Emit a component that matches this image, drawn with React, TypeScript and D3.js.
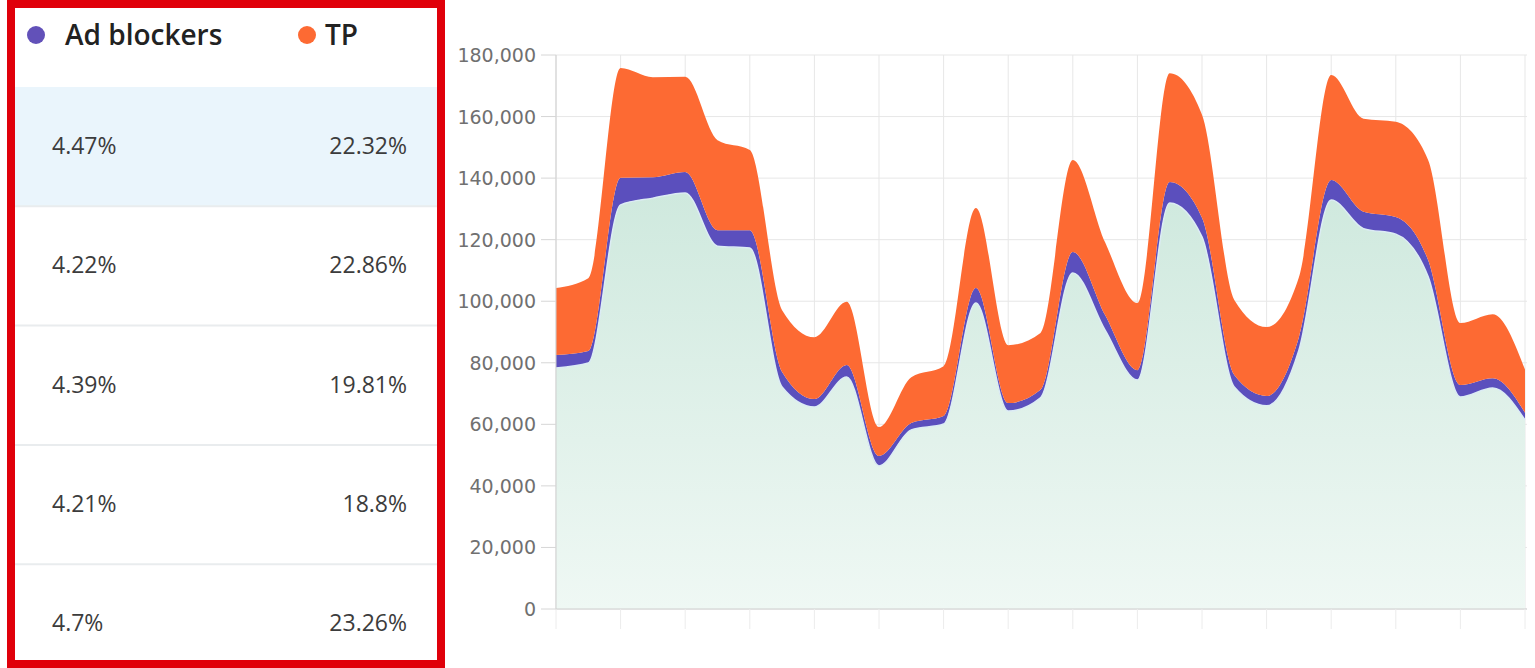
import * as d3 from "d3";

// daily points, a tick every second day
const days = [
  "1", "2", "3", "4", "5", "6", "7", "8", "9", "10", "11", "12", "13", "14", "15", "16",
  "17", "18", "19", "20", "21", "22", "23", "24", "25", "26", "27", "28", "29", "30", "31",
];

// traffic without blockers / TP (bottom green area)
const baseValues = [
  78300, 79900, 131300, 133500, 135200, 117900, 117300, 72100, 65600, 75400, 46500,
  58200, 60100, 99400, 64300, 68600, 109200, 90600, 74400, 131900, 120900, 72100,
  66000, 84100, 132900, 123600, 121800, 108000, 68900, 71800, 61400,
];

const adBlockerValues = [
  4200, 3900, 8800, 6800, 6800, 5200, 5800, 4900, 2600, 3900, 3200, 2200, 2600, 4900,
  2600, 2600, 6800, 4900, 3200, 6800, 6200, 3900, 3200, 4200, 6500, 5500, 5600, 5400,
  3900, 3200, 2400,
];

const tpValues = [
  21800, 23700, 35700, 32500, 30900, 29200, 26000, 20100, 20100, 20500, 9400, 14900,
  16200, 26000, 18800, 18500, 29900, 23700, 21800, 35400, 33500, 24400, 22400, 19500,
  34100, 30200, 30900, 32500, 20100, 20800, 14000,
];

const yTicks = [0, 20000, 40000, 60000, 80000, 100000, 120000, 140000, 160000, 180000];

// share table on the left
const adShares = ["4.47%", "4.22%", "4.39%", "4.21%", "4.7%"];
const tpShares = ["22.32%", "22.86%", "19.81%", "18.8%", "23.26%"];

const W = 1535;
const H = 668;
const plot = { left: 556, right: 1525, top: 55, bottom: 609 };

const COLORS = { ad: "#5b4fbd", tp: "#fd6a33" };

const App = () => {
  const rows = days.map((d, i) => ({
    day: d,
    base: baseValues[i],
    ad: adBlockerValues[i],
    tp: tpValues[i],
  }));

  const x = d3
    .scalePoint<string>()
    .domain(days)
    .range([plot.left, plot.right]);

  const y = d3
    .scaleLinear()
    .domain([0, 180000])
    .range([plot.bottom, plot.top]);

  const stacked = d3.stack<any>().keys(["base", "ad", "tp"])(rows);

  const area = d3
    .area<any>()
    .x((d) => x(d.data.day) ?? 0)
    .y0((d) => y(d[0]))
    .y1((d) => y(d[1]))
    .curve(d3.curveMonotoneX);

  const topLine = d3
    .line<any>()
    .x((d) => x(d.data.day) ?? 0)
    .y((d) => y(d[1]))
    .curve(d3.curveMonotoneX);

  const tickDays = days.filter((_, i) => i % 2 === 0);
  const fmt = d3.format(",");

  const rowTop = 87;
  const rowH = 119.3;

  return (
    <div style={{ position: "absolute", left: 0, top: 0 }}>
      <svg width={W} height={H} style={{ display: "block", background: "#fff" }}>
        <defs>
          <linearGradient id="baseFill" x1="0" y1="0" x2="0" y2="1">
            <stop offset="0%" stopColor="#cfe9de" />
            <stop offset="100%" stopColor="#eff8f4" />
          </linearGradient>
        </defs>

        {/* left panel */}
        <rect x={11} y={4} width={430} height={660} fill="#fff" stroke="#e0000a" strokeWidth={8} />
        <rect x={15} y={rowTop} width={422} height={rowH} fill="#eaf5fc" />
        {adShares.map((_, i) =>
          i === 0 ? null : (
            <line
              key={"sep" + i}
              x1={15}
              x2={437}
              y1={rowTop + rowH * i}
              y2={rowTop + rowH * i}
              stroke="#e9ecee"
              strokeWidth={2}
            />
          )
        )}
        <circle cx={36} cy={35} r={9} fill="#6251b9" />
        <text x={65} y={45} fontFamily="'Open Sans', sans-serif" fontWeight={600} fontSize={28} fill="#222">
          Ad blockers
        </text>
        <circle cx={307} cy={35} r={9} fill={COLORS.tp} />
        <text x={325} y={45} fontFamily="'Open Sans', sans-serif" fontWeight={600} fontSize={28} fill="#222">
          TP
        </text>
        {adShares.map((v, i) => (
          <g key={"row" + i} fontFamily="'Open Sans', sans-serif" fontSize={23} fill="#3c3c3c">
            <text x={52} y={rowTop + rowH * i + 67}>
              {v}
            </text>
            <text x={407} y={rowTop + rowH * i + 67} textAnchor="end">
              {tpShares[i]}
            </text>
          </g>
        ))}

        {/* grid */}
        {yTicks.map((t) => (
          <line
            key={"gy" + t}
            x1={plot.left}
            x2={plot.right + 2}
            y1={y(t)}
            y2={y(t)}
            stroke="#e7e7e7"
          />
        ))}
        {tickDays.map((d) => (
          <line
            key={"gx" + d}
            x1={x(d)}
            x2={x(d)}
            y1={plot.top}
            y2={plot.bottom}
            stroke="#e7e7e7"
          />
        ))}

        {/* stacked areas */}
        <path d={area(stacked[0]) ?? ""} fill="url(#baseFill)" />
        <path d={area(stacked[1]) ?? ""} fill={COLORS.ad} />
        <path d={area(stacked[2]) ?? ""} fill={COLORS.tp} />
        <path d={topLine(stacked[0]) ?? ""} fill="none" stroke="#dcecf4" strokeWidth={1.5} />

        {/* axes */}
        <line x1={plot.left} x2={plot.left} y1={plot.top} y2={plot.bottom} stroke="#cfcfcf" />
        <line x1={plot.left} x2={plot.right + 2} y1={plot.bottom} y2={plot.bottom} stroke="#cfcfcf" />
        {tickDays.map((d) => (
          <line
            key={"tx" + d}
            x1={x(d)}
            x2={x(d)}
            y1={plot.bottom}
            y2={plot.bottom + 20}
            stroke="#ececec"
          />
        ))}
        {yTicks.map((t) => (
          <g key={"ty" + t}>
            <line x1={plot.left - 15} x2={plot.left} y1={y(t)} y2={y(t)} stroke="#d6d6d6" />
            <text
              x={536}
              y={y(t) + 7}
              textAnchor="end"
              fontFamily="'DejaVu Sans', sans-serif"
              fontSize={19}
              fill="#707070"
            >
              {fmt(t)}
            </text>
          </g>
        ))}
      </svg>
    </div>
  );
};

export default App;
